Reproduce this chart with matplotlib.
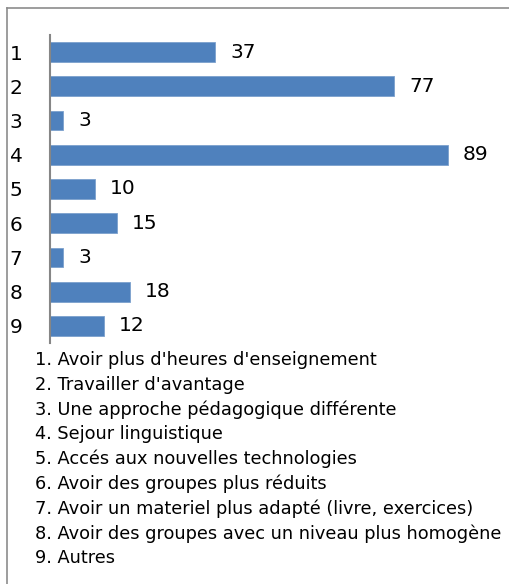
import matplotlib.pyplot as plt
from matplotlib.lines import Line2D

cats = ["1", "2", "3", "4", "5", "6", "7", "8", "9"]
values = [37, 77, 3, 89, 10, 15, 3, 18, 12]
legend_lines = [
    "1. Avoir plus d'heures d'enseignement",
    "2. Travailler d'avantage",
    "3. Une approche pédagogique différente",
    "4. Sejour linguistique",
    "5. Accés aux nouvelles technologies",
    "6. Avoir des groupes plus réduits",
    "7. Avoir un materiel plus adapté (livre, exercices)",
    "8. Avoir des groupes avec un niveau plus homogène",
    "9. Autres",
]

W, H = 510, 584
fig = plt.figure(figsize=(W / 100, H / 100), dpi=100)
fig.patch.set_facecolor("white")

# axes in pixel terms: x from 50 to 497 (0..100), y from 35 to 343
ax = fig.add_axes([50 / W, 1 - 343 / H, 447 / W, 308 / H])
ypos = list(range(len(cats)))
ax.barh(ypos, values, height=0.58, color="#4F81BD", edgecolor="#7BA0CD", linewidth=0.6)
ax.set_xlim(0, 100)
ax.set_ylim(len(cats) - 0.5, -0.5)
for i, v in enumerate(values):
    ax.text(v + 3.3, i, str(v), va="center", ha="left", fontsize=14.5, family="DejaVu Sans", color="black")

ax.set_yticks(ypos)
ax.set_yticklabels(cats, fontsize=14.5, family="DejaVu Sans")
ax.tick_params(axis="y", length=0, pad=29)
for lab in ax.get_yticklabels():
    lab.set_horizontalalignment("left")
ax.set_xticks([])
for s in ["top", "right", "bottom"]:
    ax.spines[s].set_visible(False)
ax.spines["left"].set_color("#868686")
ax.spines["left"].set_linewidth(1.5)

# legend text block
for i, t in enumerate(legend_lines):
    fig.text(35 / W, 1 - (360 + i * 24.8) / H, t, fontsize=12.8, family="DejaVu Sans",
             va="center", ha="left", color="black")

# outer frame (top and left only visible)
fig.add_artist(Line2D([7 / W, 1], [1 - 8 / H, 1 - 8 / H], color="#8C8C8C", lw=1.2, transform=fig.transFigure))
fig.add_artist(Line2D([7 / W, 7 / W], [0, 1 - 8 / H], color="#8C8C8C", lw=1.2, transform=fig.transFigure))

fig.savefig("out.png", dpi=100)
